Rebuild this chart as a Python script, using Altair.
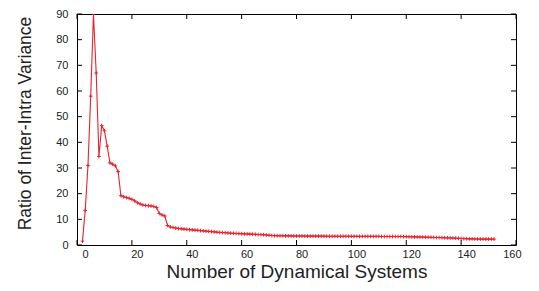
import altair as alt
import pandas as pd

# ---- data ----
x_values = list(range(2, 153))
ratio = [
    1.5, 13.5, 31.0, 58.0, 90.0, 67.0, 34.5, 46.5, 44.5, 38.5,          # 2-11
    32.0, 31.5, 30.8, 28.6, 19.2, 18.8, 18.5, 18.2, 17.8, 17.2,         # 12-21
    16.5, 16.0, 15.6, 15.4, 15.3, 15.2, 15.0, 14.6, 12.3, 11.7,         # 22-31
    11.3, 7.6, 7.0, 6.8, 6.6, 6.4, 6.3, 6.2, 6.1, 6.0,                  # 32-41
    5.9, 5.8, 5.7, 5.6, 5.5, 5.4, 5.3, 5.2, 5.1, 5.0,                   # 42-51
    4.9, 4.85, 4.8, 4.7, 4.6, 4.55, 4.5, 4.45, 4.4, 4.35,               # 52-61
    4.3, 4.25, 4.2, 4.15, 4.1, 4.05, 4.0, 3.9, 3.8, 3.7,                # 62-71
    3.65, 3.6, 3.6, 3.6, 3.55, 3.55, 3.55, 3.5, 3.5, 3.5,               # 72-81
    3.5, 3.45, 3.45, 3.45, 3.45, 3.45, 3.45, 3.45, 3.45, 3.4,           # 82-91
    3.4, 3.4, 3.4, 3.4, 3.4, 3.4, 3.4, 3.4, 3.4, 3.35,                  # 92-101
    3.35, 3.35, 3.35, 3.35, 3.35, 3.35, 3.35, 3.35, 3.35, 3.3,          # 102-111
    3.3, 3.3, 3.3, 3.3, 3.3, 3.3, 3.3, 3.3, 3.25, 3.2,                  # 112-121
    3.2, 3.15, 3.15, 3.1, 3.1, 3.05, 3.0, 3.0, 2.95, 2.9,               # 122-131
    2.9, 2.85, 2.8, 2.8, 2.75, 2.7, 2.65, 2.6, 2.55, 2.5,               # 132-141
    2.45, 2.4, 2.4, 2.35, 2.35, 2.3, 2.3, 2.3, 2.3, 2.3,                # 142-151
    2.3,                                                                # 152
]
x_ticks = [0, 20, 40, 60, 80, 100, 120, 140, 160]
y_ticks = [0, 10, 20, 30, 40, 50, 60, 70, 80, 90]

RED = "#e8232b"
FONT = "Liberation Sans"
W, H = 439, 231

df = pd.DataFrame({"x": x_values, "ratio": ratio})
xs = alt.Scale(domain=[0, 160], nice=False, zero=False)
ys = alt.Scale(domain=[0, 90], nice=False, zero=False)

x_axis = alt.Axis(
    values=x_ticks, title="Number of Dynamical Systems", domain=False,
    ticks=False, grid=False, labelPadding=3, labelOffset=5, labelFontSize=11,
    labelFont=FONT, labelColor="#222", titleFont=FONT, titleFontSize=19,
    titleFontWeight="normal", titleColor="#222", titleY=32,
    titleBaseline="alphabetic")
y_axis = alt.Axis(
    values=y_ticks, title="Ratio of Inter-Intra Variance", domain=False,
    ticks=False, grid=False, labelPadding=9, labelFontSize=11,
    labelFont=FONT, labelColor="#222", titleFont=FONT, titleFontSize=17.5,
    titleFontWeight="normal", titleColor="#222", titleX=-52, titleY=109,
    titleBaseline="middle")

line = alt.Chart(df).mark_line(
    color=RED, strokeWidth=1.1, clip=True,
    point=alt.OverlayMarkDef(shape="M-1,0L1,0M0,-1L0,1", filled=False,
                             stroke=RED, strokeWidth=1, size=14),
).encode(
    x=alt.X("x:Q", scale=xs, axis=x_axis),
    y=alt.Y("ratio:Q", scale=ys, axis=y_axis),
)

xt = pd.DataFrame({"t": x_ticks})
yt = pd.DataFrame({"t": y_ticks})
bottom = alt.Chart(xt).mark_rule(color="black", strokeWidth=1).encode(
    x=alt.X("t:Q", scale=xs, axis=x_axis), y=alt.value(H), y2=alt.value(H - 5))
top = alt.Chart(xt).mark_rule(color="black", strokeWidth=1).encode(
    x=alt.X("t:Q", scale=xs, axis=x_axis), y=alt.value(0), y2=alt.value(5))
left = alt.Chart(yt).mark_rule(color="black", strokeWidth=1).encode(
    y=alt.Y("t:Q", scale=ys, axis=y_axis), x=alt.value(0), x2=alt.value(5))
right = alt.Chart(yt).mark_rule(color="black", strokeWidth=1).encode(
    y=alt.Y("t:Q", scale=ys, axis=y_axis), x=alt.value(W), x2=alt.value(W - 5))

chart = alt.layer(line, bottom, top, left, right).properties(
    width=W, height=H,
    autosize=alt.AutoSizeParams(type="none"),
    padding={"left": 69, "top": 6, "right": 15, "bottom": 38},
).configure_view(stroke="black", strokeWidth=1)

chart.save("out.html", embed_options={"renderer": "svg", "actions": False})
